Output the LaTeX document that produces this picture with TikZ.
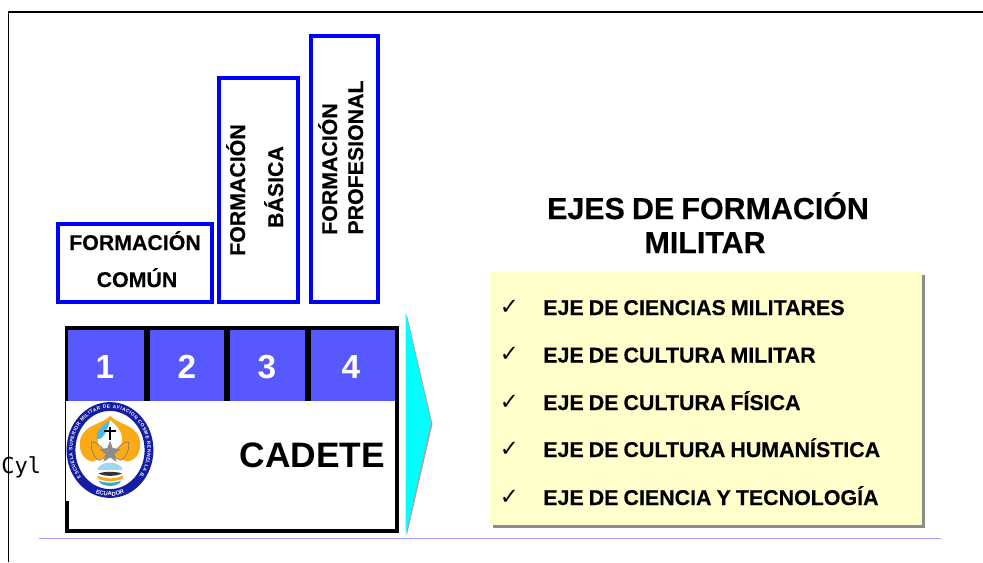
\documentclass[tikz,border=0pt]{standalone}
\usepackage{fontspec}
\setmainfont{Liberation Sans}
\newfontfamily\monof{DejaVu Sans Mono}
\newfontfamily\symf{DejaVu Sans}
\newfontfamily\hb[UprightFont={* Bold},FakeBold=0.35,WordSpace=0.45]{Liberation Sans}
\newfontfamily\hc[UprightFont={* Bold},FakeBold=0.35,WordSpace=0.85]{Liberation Sans}
\newcommand{\fs}[1]{\fontsize{#1}{#1}\selectfont}
\usetikzlibrary{decorations.text}
\definecolor{boxblue}{RGB}{0,0,255}
\definecolor{cellblue}{RGB}{88,88,255}
\definecolor{pale}{RGB}{255,255,204}
\definecolor{cyanar}{RGB}{0,255,255}
\definecolor{rulec}{RGB}{165,165,255}
\definecolor{navy}{RGB}{20,30,165}
\definecolor{gold}{RGB}{250,170,25}
\definecolor{skyb}{RGB}{80,185,225}
\tikzset{
  px/.style={x=0.75pt,y=-0.75pt},
  fbox/.style={draw=boxblue,line width=2.9pt,fill=white},
  lab/.style={inner sep=0pt,anchor=base,font=\hc\fs{16}},
  rlab/.style={lab,rotate=90},
  num/.style={inner sep=0pt,font=\bfseries\fs{25},text=white},
  item/.style={inner sep=0pt,anchor=base west,font=\hb\fs{16.05}},
  tick/.style={inner sep=0pt,anchor=base west,font=\symf\fs{17}},
  headl/.style={inner sep=0pt,anchor=base,font=\hc\fs{22.8}},
  wing/.style={fill=gold,draw=black!60,line width=0.3pt},
}
\begin{document}
\begin{tikzpicture}[px]
\useasboundingbox (0,0) rectangle (983,562);
% outer frame
\draw[line width=1.3pt] (8.5,562) -- (8.5,12) -- (983,12);
\draw[rulec,line width=0.8pt] (39,538.5) -- (941,538.5);
% formation boxes
\draw[fbox] (58,224) rectangle (212,302);
\draw[fbox] (219,78) rectangle (298,302);
\draw[fbox] (311,36) rectangle (378,302);
\node[lab] (fc1) at (135,250) {FORMACIÓN};
\node[lab] (fc2) at (137,287) {COMÚN};
\node[rlab] (fb1) at (245,190) {FORMACIÓN};
\node[rlab] (fb2) at (283,187) {BÁSICA};
\node[rlab] (fp1) at (337,169) {FORMACIÓN};
\node[rlab] (fp2) at (363,157.5) {PROFESIONAL};
% cadet table
\fill (65,326) rectangle (399,533);
\fill[white] (65.7,401) rectangle (395,528.5);
\fill (65,501) rectangle (68.5,533);
\fill[cellblue] (68,330) rectangle (144,401);
\fill[cellblue] (150,330) rectangle (224,401);
\fill[cellblue] (230,330) rectangle (305,401);
\fill[cellblue] (311,330) rectangle (395,401);
\node[num] (n1) at (105,367) {1};
\node[num] (n2) at (187,367) {2};
\node[num] (n3) at (267,367) {3};
\node[num] (n4) at (351,367) {4};
\node[inner sep=0pt,font=\bfseries\fs{26.5}] (cad) at (312.5,455) {CADETE};
% emblem
\draw[navy,line width=6.6pt,fill=white] (110,450) ellipse (39 and 43.5);
\path[postaction={decorate,decoration={text along path,text align={fit to path},
   text={|\bfseries\fontsize{3.6}{3.6}\selectfont\color{white}|ESCUELA SUPERIOR MILITAR DE AVIACION COSME RENNELLA B.}}}]
   (110,450) ++(140:37.5 and 42) arc[start angle=140,end angle=400,x radius=37.5,y radius=42];
\path[postaction={decorate,decoration={text along path,text align=center,
   text={|\bfseries\fontsize{4.4}{4.4}\selectfont\color{white}|ECUADOR}}}]
   (110,450) ++(120:41 and 46) arc[start angle=120,end angle=60,x radius=41,y radius=46];
\begin{scope}[shift={(60,396)},x=0.25pt,y=-0.25pt]
  % gold lobes
  \fill[gold] (150,60) .. controls (125,85) and (78,85) .. (62,125) .. controls (55,155) and (62,190) .. (98,197)
     -- (135,180) .. controls (112,150) and (95,115) .. (150,72) .. controls (205,115) and (188,150) .. (165,180)
     -- (202,197) .. controls (238,190) and (245,155) .. (238,125) .. controls (222,85) and (175,85) .. (150,60) -- cycle;
  % sky half of the teardrop
  \fill[skyb] (150,72) .. controls (125,90) and (105,110) .. (110,125) .. controls (115,140) and (140,120) .. (150,72) -- cycle;
  % wings
  \draw[wing] (140,172) .. controls (125,150) and (105,135) .. (95,138) .. controls (90,155) and (100,185) .. (118,193) .. controls (128,192) and (135,185) .. (140,172) -- cycle;
  \draw[wing] (160,172) .. controls (175,150) and (195,135) .. (205,138) .. controls (210,155) and (200,185) .. (182,193) .. controls (172,192) and (165,185) .. (160,172) -- cycle;
  % cross
  \draw[line width=1.6pt] (150,92) -- (150,132);
  \draw[line width=1.3pt] (133,106) -- (167,106);
  % star
  \fill[black!45] (150,134) -- (158,156) -- (182,160) -- (163,174) -- (170,198) -- (150,184) -- (130,198) -- (137,174) -- (118,160) -- (142,156) -- cycle;
  % globe
  \fill[skyb!55!white] (150,200) .. controls (128,200) and (112,212) .. (112,222) -- (188,222) .. controls (188,212) and (172,200) .. (150,200) -- cycle;
  \fill[black!80] (116,232) .. controls (135,226) and (165,226) .. (186,232) .. controls (170,242) and (130,242) .. (116,232) -- cycle;
  \fill[gold] (112,238) .. controls (135,250) and (165,250) .. (190,238) -- (188,248) .. controls (165,258) and (135,258) .. (114,248) -- cycle;
  \fill[skyb!70!teal] (116,254) .. controls (135,262) and (165,262) .. (184,254) .. controls (175,275) and (125,275) .. (116,254) -- cycle;
\end{scope}
% arrow
\fill[black!35] (406.5,313) -- (432.5,424) -- (406.5,537) -- cycle;
\fill[cyanar] (405.5,312) -- (431,422) -- (405.5,535) -- cycle;
% heading
\node[headl] (h1) at (708,219) {EJES DE FORMACIÓN};
\node[headl] (h2) at (705,253) {MILITAR};
% panel
\fill[black!45] (493,275) rectangle (925,528);
\fill[pale] (490,272) rectangle (922,525);
\foreach \y/\t/\n in {315/EJE DE CIENCIAS MILITARES/a,362.5/EJE DE CULTURA MILITAR/b,410/EJE DE CULTURA FÍSICA/c,457/EJE DE CULTURA HUMANÍSTICA/d,505/EJE DE CIENCIA Y TECNOLOGÍA/e}{
  \node[tick] (t\n) at (499.5,\y-1) {✓};
  \node[item] (i\n) at (543,\y) {\t};
}
\node[inner sep=0pt,anchor=base west,font=\monof\fs{16.5}] (cyl) at (1,473) {Cyl};
\end{tikzpicture}
\end{document}
